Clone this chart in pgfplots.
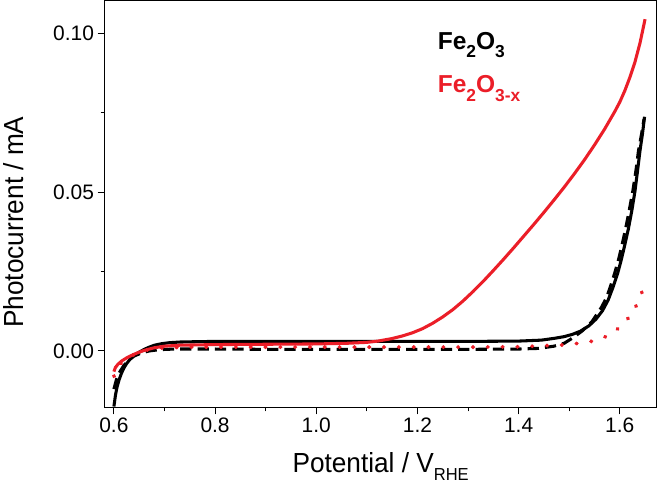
\documentclass[border=0pt]{standalone}
\usepackage{fontspec}
\setmainfont{Liberation Sans}
\usepackage{pgfplots}
\pgfplotsset{compat=1.18}
\definecolor{curvered}{RGB}{235,30,40}
\newcommand{\sub}[1]{\raisebox{-8pt}{\fontsize{17}{17}\selectfont #1}}

\begin{document}
\begin{tikzpicture}
  \begin{axis}[
      scale only axis,
      width=540pt, height=398pt,
      xmin=0.5818, xmax=1.6727,
      ymin=-0.0177, ymax=0.1103,
      xtick={0.6,0.8,1.0,1.2,1.4,1.6},
      ytick={0,0.05,0.10},
      minor x tick num=1,
      minor y tick num=1,
      xtick pos=bottom, ytick pos=left,
      tick align=outside,
      major tick length=7pt, minor tick length=4pt,
      axis line style={line width=0.9pt},
      every tick/.style={line width=0.9pt, black},
      scaled y ticks=false,
      /pgf/number format/assume math mode=true,
      xticklabel style={/pgf/number format/.cd, fixed, fixed zerofill, precision=1},
      yticklabel style={/pgf/number format/.cd, fixed, fixed zerofill, precision=2},
      tick label style={font=\fontsize{20.5}{23}\selectfont},
      label style={font=\fontsize{27}{30}\selectfont, xscale=0.95},
      xlabel={Potential / V\sub{RHE}},
      ylabel={Photocurrent / mA},
      xlabel shift=12pt,
      ylabel shift=22pt,
      ylabel style={at={(ticklabel cs:0.455)}},
    ]

    % Fe2O3, light
    \addplot[black, line width=3pt] coordinates {
      (0.600,-0.0175) (0.603,-0.0140) (0.606,-0.0115) (0.610,-0.0092) (0.615,-0.0070)
      (0.620,-0.0053) (0.625,-0.0040) (0.632,-0.0026) (0.640,-0.0014) (0.650,-0.0004)
      (0.660,0.0005) (0.670,0.0012) (0.680,0.0018) (0.695,0.0023) (0.710,0.0026)
      (0.730,0.0028) (0.760,0.0029) (0.800,0.0030) (0.900,0.0030) (1.000,0.0030)
      (1.100,0.0030) (1.200,0.0030) (1.300,0.0030) (1.400,0.0031) (1.445,0.0034)
      (1.472,0.0040) (1.490,0.0045) (1.506,0.0052) (1.522,0.0062) (1.539,0.0079)
      (1.553,0.0100) (1.566,0.0127) (1.577,0.0160) (1.587,0.0202) (1.596,0.0245)
      (1.603,0.0287) (1.610,0.0334) (1.617,0.0384) (1.624,0.0443) (1.630,0.0502)
      (1.635,0.0565) (1.640,0.0630) (1.645,0.0685) (1.649,0.0737)
    };

    % Fe2O3, dark
    \addplot[black, line width=3pt, dash pattern=on 11pt off 6pt] coordinates {
      (0.600,-0.0120) (0.605,-0.0090) (0.612,-0.0065) (0.620,-0.0045) (0.630,-0.0028)
      (0.640,-0.0016) (0.655,-0.0006) (0.670,0.0000) (0.690,0.0004) (0.720,0.0006)
      (0.800,0.0006) (0.900,0.0005) (1.000,0.0005) (1.100,0.0005) (1.200,0.0005)
      (1.300,0.0005) (1.400,0.0006) (1.440,0.0008) (1.470,0.0015) (1.490,0.0024)
      (1.506,0.0040) (1.525,0.0062) (1.545,0.0092) (1.563,0.0135) (1.574,0.0168)
      (1.582,0.0205) (1.590,0.0245) (1.598,0.0290) (1.605,0.0337) (1.612,0.0388)
      (1.619,0.0445) (1.626,0.0505) (1.632,0.0568) (1.637,0.0630) (1.643,0.0682)
      (1.648,0.0730)
    };

    % Fe2O3-x, light
    \addplot[curvered, line width=3pt] coordinates {
      (0.600,-0.0065) (0.603,-0.0052) (0.608,-0.0042) (0.615,-0.0032) (0.625,-0.0022)
      (0.635,-0.0014) (0.645,-0.0007) (0.655,-0.0001) (0.665,0.0004) (0.680,0.0010)
      (0.700,0.0015) (0.730,0.0018) (0.800,0.0020) (0.900,0.0021) (1.000,0.0022)
      (1.060,0.0024) (1.100,0.0027) (1.122,0.0031) (1.150,0.0039) (1.170,0.0047)
      (1.190,0.0057) (1.210,0.0070) (1.230,0.0087) (1.250,0.0107) (1.270,0.0130)
      (1.290,0.0157) (1.310,0.0187) (1.330,0.0219) (1.350,0.0253) (1.370,0.0288)
      (1.390,0.0324) (1.410,0.0361) (1.430,0.0398) (1.450,0.0436) (1.470,0.0475)
      (1.490,0.0515) (1.510,0.0557) (1.530,0.0601) (1.550,0.0648) (1.570,0.0698)
      (1.590,0.0753) (1.600,0.0783) (1.610,0.0819) (1.620,0.0861) (1.630,0.0909)
      (1.640,0.0969) (1.650,0.1044)
    };

    % Fe2O3-x, dark
    \addplot[curvered, line width=3.8pt, line cap=round, dash pattern=on 0.5pt off 14pt] coordinates {
      (0.600,-0.0080) (0.605,-0.0060) (0.612,-0.0042) (0.620,-0.0030) (0.635,-0.0015)
      (0.650,-0.0004) (0.670,0.0005) (0.700,0.0010) (0.750,0.0012) (0.900,0.0012)
      (1.100,0.0012) (1.300,0.0012) (1.400,0.0013) (1.459,0.0017) (1.489,0.0019)
      (1.524,0.0025) (1.558,0.0034) (1.586,0.0056) (1.612,0.0092) (1.632,0.0141)
      (1.646,0.0193)
    };

    \node[anchor=base west, font=\fontsize{24}{26}\selectfont\bfseries, text=black, inner sep=0pt]
      at (axis cs:1.24,0.0950) {Fe\sub{\bfseries 2}O\sub{\bfseries 3}};
    \node[anchor=base west, font=\fontsize{24}{26}\selectfont\bfseries, text=curvered, inner sep=0pt]
      at (axis cs:1.24,0.0812) {Fe\sub{\bfseries 2}O\sub{\bfseries 3-x}};
  \end{axis}
\end{tikzpicture}
\end{document}
